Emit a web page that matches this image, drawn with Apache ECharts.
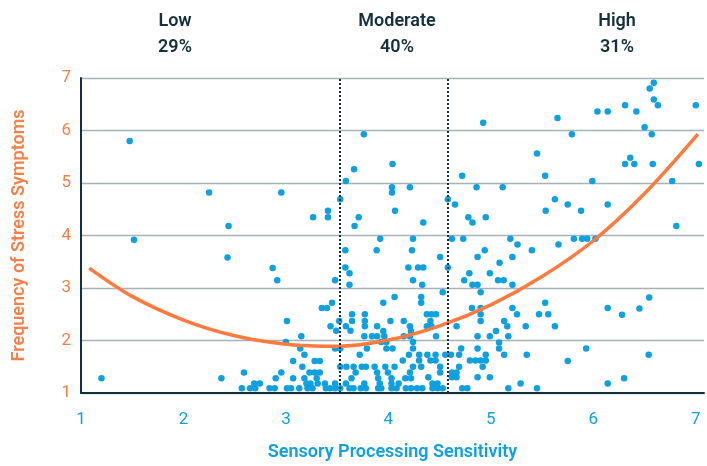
<!DOCTYPE html>
<html><head><meta charset="utf-8">
<script src="https://cdn.jsdelivr.net/npm/echarts@6/dist/echarts.min.js"></script>
<style>html,body{margin:0;padding:0;background:#fff}#c{width:707px;height:466px}</style>
</head><body><div id="c"></div>
<script>
// Scatter points: sensory processing sensitivity (x) vs stress symptom frequency (y)
const pts = [
[1.475,5.80],[2.25,4.82],[2.955,4.82],[2.44,4.18],[1.517,3.92],[2.43,3.58],[2.87,3.38],[2.915,3.15],
[1.20,1.28],[2.37,1.28],
[3.35,2.62],[3.40,2.62],[3.01,2.37],[3.15,2.08],[3.00,1.97],[3.14,1.85],[3.18,1.73],
[3.07,1.61],[3.28,1.61],[3.33,1.61],[3.16,1.50],
[3.28,1.39],[3.33,1.39],[2.59,1.39],[2.955,1.39],[3.23,1.39],
[2.90,1.28],[3.07,1.28],[3.18,1.28],[3.30,1.28],
[2.69,1.18],[2.745,1.18],[3.20,1.18],[3.24,1.18],[3.31,1.18],[3.38,1.18],
[2.57,1.09],[2.65,1.09],[2.70,1.09],[2.84,1.09],[2.89,1.09],[3.01,1.09],[3.05,1.09],[3.13,1.09],[3.21,1.09],[3.26,1.09],[3.39,1.09],
[3.45,2.72],[3.95,2.72],[4.06,2.83],[4.32,2.72],[4.32,2.83],
[3.645,2.50],[3.77,2.50],[3.645,2.37],[3.77,2.37],[3.77,2.27],[3.52,2.37],[3.435,2.27],[3.585,2.27],
[3.49,2.185],[3.63,2.185],[4.02,2.37],[4.15,2.37],[4.21,2.27],[3.89,2.27],[3.95,2.18],[4.22,2.18],
[3.765,2.08],[3.84,2.08],[3.89,2.08],[3.96,2.08],[4.15,2.08],[4.21,2.08],
[3.48,1.85],[3.53,1.85],[3.79,1.85],[3.93,1.97],[3.98,1.97],[3.98,1.85],[4.04,1.85],[4.24,1.97],[4.24,1.85],
[3.72,1.73],[4.20,1.73],[4.30,1.73],[4.14,1.62],[4.30,1.62],
[3.53,1.50],[3.59,1.50],[3.66,1.50],[3.74,1.50],[3.78,1.50],[3.865,1.50],[3.97,1.50],[4.06,1.50],[4.24,1.50],[4.32,1.50],
[3.68,1.39],[3.89,1.39],[3.995,1.39],[4.21,1.39],
[3.64,1.28],[3.90,1.28],[4.03,1.28],[4.165,1.28],[4.22,1.28],
[3.48,1.18],[3.585,1.18],[3.765,1.18],[3.915,1.18],[4.03,1.18],[4.10,1.18],
[3.43,1.09],[3.48,1.09],[3.53,1.09],[3.62,1.09],[3.66,1.09],[3.73,1.09],[3.78,1.09],[3.90,1.09],[3.93,1.09],[4.03,1.09],[4.08,1.09],[4.17,1.09],[4.22,1.09],[4.28,1.09],[4.33,1.09],
[4.53,2.92],[4.90,2.92],[4.375,2.50],[4.42,2.50],[4.465,2.50],[4.41,2.37],[4.815,2.62],
[4.90,2.62],[4.90,2.50],[4.90,2.37],[4.375,2.27],[4.42,2.27],[4.665,2.27],[5.21,2.62],[5.13,2.37],[5.16,2.27],[5.05,2.18],
[4.465,2.08],[4.87,2.08],[4.99,2.08],[5.17,2.08],[5.08,1.96],[5.08,1.85],[4.71,1.85],[4.87,1.85],
[4.38,1.73],[4.46,1.73],[4.555,1.73],[4.61,1.73],[4.69,1.73],[4.95,1.73],[5.13,1.73],
[4.41,1.62],[4.46,1.62],[4.795,1.62],[4.85,1.62],[4.90,1.62],[4.95,1.62],
[4.505,1.50],[4.69,1.50],[4.92,1.50],[4.505,1.39],[4.62,1.39],[4.665,1.39],
[4.62,1.30],[4.665,1.30],[4.87,1.30],[4.99,1.30],[4.39,1.30],
[4.43,1.18],[4.48,1.18],[4.43,1.09],[4.48,1.09],[4.53,1.09],[4.72,1.09],[4.77,1.09],[5.17,1.09],
[5.53,2.72],[5.255,2.50],[5.47,2.50],[5.56,2.50],[6.14,2.62],[5.34,2.27],[5.625,2.27],[5.35,1.73],[5.93,1.85],[5.75,1.61],
[5.29,1.18],[5.45,1.09],[6.14,1.18],
[6.28,2.49],[6.45,2.61],[6.545,2.82],[6.54,1.73],[6.30,1.28],
[5.19,3.94],[5.26,3.83],[4.94,3.72],[5.40,3.72],[4.87,3.59],[5.21,3.59],[5.085,3.48],[4.79,3.28],[4.99,3.28],
[5.07,3.15],[5.125,3.15],[4.82,3.06],[4.87,3.06],[5.21,3.06],[5.66,3.83],[5.81,3.94],[5.89,3.94],[5.94,3.94],[6.02,3.94],
[3.92,3.94],[4.24,3.94],[4.62,3.94],[4.73,3.94],[3.58,3.72],[3.885,3.72],[4.23,3.72],[4.505,3.59],
[3.58,3.39],[4.195,3.39],[4.29,3.39],[4.34,3.39],[4.58,3.39],[3.62,3.28],[3.48,3.15],[4.24,3.15],[4.74,3.15],[3.62,3.06],[4.33,3.06],
[3.76,5.93],[3.665,5.26],[4.04,5.36],[3.585,5.04],[4.035,4.92],[4.035,4.82],[4.21,4.92],[3.53,4.69],[3.41,4.47],
[3.265,4.35],[3.41,4.35],[3.71,4.35],[3.67,4.18],[4.065,4.47],[4.34,4.25],[4.72,5.14],[4.86,4.92],[4.58,4.69],[4.65,4.59],[4.78,4.35],[4.82,4.25],
[4.925,6.15],[5.65,6.24],[6.04,6.36],[6.14,6.36],[6.31,6.48],[6.42,6.36],[6.55,6.80],[6.59,6.91],[6.59,6.59],[6.63,6.48],[7.00,6.48],
[6.50,6.06],[6.57,5.93],[5.79,5.93],[5.45,5.56],[6.31,5.36],[6.40,5.36],[6.58,5.36],[6.36,5.48],[7.03,5.36],[5.53,5.14],[5.115,4.92],
[5.99,5.04],[6.77,5.04],[5.625,4.69],[5.75,4.59],[5.535,4.47],[5.88,4.47],[6.14,4.59],[4.95,4.35],[6.81,4.18]
];
// Fitted trend curve
const curveX = [1.08, 1.5, 2.0, 2.5, 3.0, 3.5, 4.0, 4.5, 5.0, 5.5, 6.0, 6.5, 7.02];
const curveY = [3.38, 2.84, 2.39, 2.09, 1.93, 1.89, 2.01, 2.28, 2.68, 3.22, 3.90, 4.80, 5.93];
// Group boundaries and labels
const cutoffs = [3.53, 4.58];
const groupNames = ['Low', 'Moderate', 'High'];
const groupShares = ['29%', '40%', '31%'];
const xTicks = [1, 2, 3, 4, 5, 6, 7];
const yTicks = [1, 2, 3, 4, 5, 6, 7];

const DARK = '#14303f', BLUE = '#0ea0df', ORANGE = '#f5804a', CURVE = '#ff7a3c';
const FONT = 'Roboto';
const chart = echarts.init(document.getElementById('c'), null, {renderer: 'canvas'});
const groupCenters = [175, 397, 617];
const graphics = [];
groupNames.forEach((g, i) => {
  graphics.push({type: 'text', x: groupCenters[i], y: 12, style: {text: g, fill: DARK, font: `600 18px ${FONT}`, textAlign: 'center'}});
  graphics.push({type: 'text', x: groupCenters[i], y: 38, style: {text: groupShares[i], fill: DARK, font: `600 18px ${FONT}`, textAlign: 'center'}});
});
chart.setOption({
  animation: false,
  backgroundColor: '#fff',
  grid: {left: 81, right: 0, top: 78, bottom: 69, containLabel: false},
  graphic: graphics,
  xAxis: {
    type: 'value', min: xTicks[0], max: 7.08, interval: 1,
    name: 'Sensory Processing Sensitivity', nameLocation: 'middle', nameGap: 50,
    nameTextStyle: {color: BLUE, fontSize: 18, fontWeight: 600, fontFamily: FONT},
    axisLine: {show: true, lineStyle: {color: DARK, width: 2}},
    axisTick: {show: false},
    splitLine: {show: false},
    axisLabel: {color: BLUE, fontSize: 17, fontFamily: FONT, margin: 18,
      formatter: v => xTicks.includes(v) ? String(v) : ''}
  },
  yAxis: {
    type: 'value', min: yTicks[0], max: yTicks[yTicks.length - 1], interval: 1,
    name: 'Frequency of Stress Symptoms', nameLocation: 'middle', nameGap: 53,
    nameTextStyle: {color: ORANGE, fontSize: 18, fontWeight: 600, fontFamily: FONT},
    axisLine: {show: true, lineStyle: {color: DARK, width: 2}},
    axisTick: {show: false},
    splitLine: {show: true, lineStyle: {color: '#a7b2b8', width: 1.3}},
    axisLabel: {color: ORANGE, fontSize: 17, fontFamily: FONT, margin: 10}
  },
  series: [
    {
      type: 'scatter', data: pts, symbolSize: 6.5,
      itemStyle: {color: BLUE, opacity: 1},
      z: 3,
      markLine: {
        silent: true, symbol: ['none', 'none'], label: {show: false},
        lineStyle: {color: DARK, type: [2, 2], width: 2},
        data: cutoffs.map(v => ({xAxis: v}))
      }
    },
    {
      type: 'line', data: curveX.map((x, i) => [x, curveY[i]]), smooth: 0.35,
      showSymbol: false, lineStyle: {color: CURVE, width: 3.5}, z: 4
    }
  ]
});
</script></body></html>
